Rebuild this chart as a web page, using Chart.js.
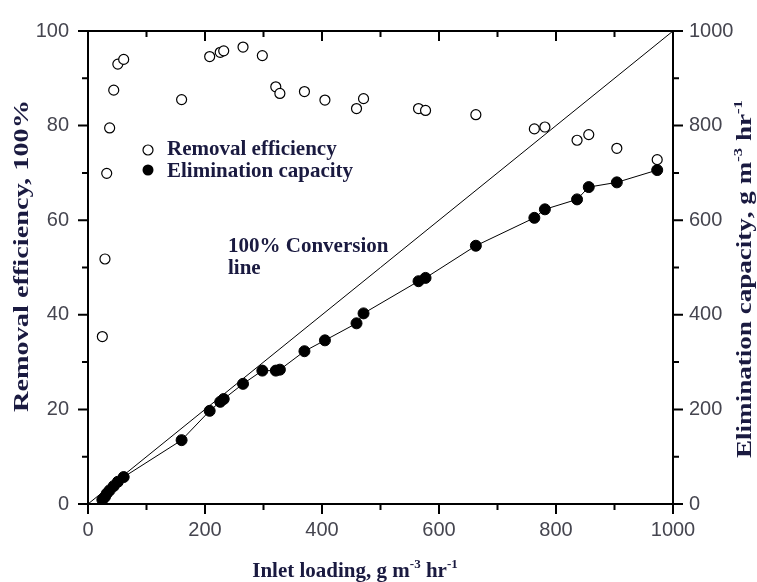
<!DOCTYPE html>
<html>
<head>
<meta charset="utf-8">
<script src="https://cdn.jsdelivr.net/npm/chart.js@4/dist/chart.umd.min.js"></script>
<style>
  body { margin: 0; background: #fff; }
</style>
</head>
<body>
<canvas id="bio" width="757" height="582"></canvas>
<script>
// inlet loading (g m-3 hr-1) for each run
var inletLoad = [24.5, 29, 32, 37, 44, 51, 61, 160, 208, 226, 232, 265, 298, 321, 328, 370, 405, 459, 471, 565, 577, 663, 763, 781, 836, 856, 904, 973];
// removal efficiency, %
var removalEff = [35.4, 51.8, 69.9, 79.5, 87.5, 93.0, 94.0, 85.5, 94.6, 95.5, 95.8, 96.6, 94.8, 88.2, 86.8, 87.2, 85.4, 83.6, 85.7, 83.6, 83.2, 82.3, 79.3, 79.7, 76.9, 78.1, 75.2, 72.8];
// elimination capacity, g m-3 hr-1
var elimCap = [9, 15, 22, 29, 38, 47, 57, 135, 197, 216, 222, 254, 282, 282, 284, 323, 346, 382, 403, 471, 478, 546, 605, 623, 644, 670, 680, 706];
// 100% conversion reference line
var convX = [0, 1000];
var convY = [0, 1000];

var xTicks = [0, 200, 400, 600, 800, 1000];
var yTicks = [0, 20, 40, 60, 80, 100];
var y2Ticks = [0, 200, 400, 600, 800, 1000];

var ink = '#1a1a40';
var serif = '"Liberation Serif", "Times New Roman", serif';

function pts(xs, ys) {
    return xs.map(function(x, i){ return {x: x, y: ys[i]}; });
}

function partFont(p, size) {
    return 'bold ' + (p.sup ? size * 0.62 : size) + 'px ' + serif;
}

function partsWidth(ctx, parts, size) {
    var total = 0;
    parts.forEach(function(p){
        ctx.font = partFont(p, size);
        p.w = ctx.measureText(p.t).width;
        total += p.w;
    });
    return total;
}

// draws a line of text with superscript pieces, centred on x
function supText(ctx, parts, x, y, size) {
    var total = partsWidth(ctx, parts, size);
    var cx = x - total / 2;
    ctx.textAlign = 'left';
    ctx.textBaseline = 'alphabetic';
    parts.forEach(function(p){
        ctx.font = partFont(p, size);
        ctx.fillText(p.t, cx, p.sup ? y - size * 0.42 : y);
        cx += p.w;
    });
}

// vertical title, stretched along its length to span `len` pixels
function sideTitle(ctx, parts, x, y, size, len) {
    var w = partsWidth(ctx, parts, size);
    ctx.save();
    ctx.translate(x, y);
    ctx.rotate(-Math.PI / 2);
    ctx.scale(len / w, 1);
    supText(ctx, parts, 0, 0, size);
    ctx.restore();
}

var unitParts = function() {
    return [{t: ', g m'}, {t: '-3', sup: true}, {t: ' hr'}, {t: '-1', sup: true}];
};

var frame = {
    id: 'frame',
    afterDraw: function(chart) {
        var ctx = chart.ctx, a = chart.chartArea;
        var sx = chart.scales.x, sy = chart.scales.y, sy2 = chart.scales.y2;
        ctx.save();
        ctx.strokeStyle = '#000';
        ctx.lineWidth = 2;
        // top and right border
        ctx.beginPath();
        ctx.moveTo(a.left - 1, a.top);
        ctx.lineTo(a.right, a.top);
        ctx.lineTo(a.right, a.bottom);
        ctx.stroke();

        // tick marks, majors and minors
        ctx.beginPath();
        for (var v = 0; v <= 1000; v += 100) {
            var px = sx.getPixelForValue(v);
            var len = (v % 200 === 0) ? 10 : 6;
            ctx.moveTo(px, a.bottom); ctx.lineTo(px, a.bottom + len);
            ctx.moveTo(px, a.top); ctx.lineTo(px, a.top + len);
            var py2 = sy2.getPixelForValue(v);
            ctx.moveTo(a.right, py2); ctx.lineTo(a.right + len, py2);
        }
        for (var w = 0; w <= 100; w += 10) {
            var py = sy.getPixelForValue(w);
            var l2 = (w % 20 === 0) ? 10 : 6;
            ctx.moveTo(a.left, py); ctx.lineTo(a.left - l2, py);
        }
        ctx.stroke();

        ctx.fillStyle = ink;
        // axis titles
        supText(ctx, [{t: 'Inlet loading'}].concat(unitParts()), 355, 577, 21);
        sideTitle(ctx, [{t: 'Removal efficiency, 100%'}], 28, 256, 21, 312);
        sideTitle(ctx, [{t: 'Elimination capacity'}].concat(unitParts()), 751, 279, 21, 358);

        // legend
        ctx.lineWidth = 1.2;
        ctx.beginPath();
        ctx.arc(148, 150, 5, 0, Math.PI * 2);
        ctx.fillStyle = '#fff';
        ctx.fill();
        ctx.strokeStyle = '#000';
        ctx.stroke();
        ctx.beginPath();
        ctx.arc(148, 170, 5.5, 0, Math.PI * 2);
        ctx.fillStyle = '#000';
        ctx.fill();
        ctx.fillStyle = ink;
        ctx.font = 'bold 21px ' + serif;
        ctx.textAlign = 'left';
        ctx.textBaseline = 'alphabetic';
        ctx.fillText('Removal efficiency', 167, 155);
        ctx.fillText('Elimination capacity', 167, 177);

        // label for the conversion line
        ctx.fillText('100% Conversion', 228, 252);
        ctx.fillText('line', 228, 274);
        ctx.restore();
    }
};

var tickFont = {family: '"Liberation Sans", Arial, sans-serif', size: 20};
var tickColor = '#45454f';
var plain = function(v) { return String(v); };

new Chart(document.getElementById('bio'), {
    type: 'scatter',
    data: {
        datasets: [
            {
                label: '100% Conversion line',
                data: pts(convX, convY),
                yAxisID: 'y2',
                showLine: true,
                borderColor: '#000',
                borderWidth: 1,
                pointRadius: 0
            },
            {
                label: 'Elimination capacity',
                data: pts(inletLoad, elimCap),
                yAxisID: 'y2',
                showLine: true,
                borderColor: '#000',
                borderWidth: 1,
                pointRadius: 5.5,
                pointBackgroundColor: '#000',
                pointBorderColor: '#000',
                pointBorderWidth: 1
            },
            {
                label: 'Removal efficiency',
                data: pts(inletLoad, removalEff),
                yAxisID: 'y',
                showLine: false,
                pointRadius: 5,
                pointBackgroundColor: '#fff',
                pointBorderColor: '#000',
                pointBorderWidth: 1.2
            }
        ]
    },
    options: {
        responsive: false,
        devicePixelRatio: 1,
        animation: false,
        layout: { padding: { top: 25, left: 0, right: 0, bottom: 0 } },
        plugins: { legend: { display: false }, tooltip: { enabled: false } },
        scales: {
            x: {
                type: 'linear', position: 'bottom', min: 0, max: 1000,
                afterFit: function(s){ s.height = 78; },
                afterBuildTicks: function(s){ s.ticks = xTicks.map(function(v){ return {value: v}; }); },
                grid: { display: false, drawTicks: false },
                border: { display: true, width: 2, color: '#000' },
                ticks: { font: tickFont, color: tickColor, padding: 14, maxRotation: 0, callback: plain }
            },
            y: {
                type: 'linear', position: 'left', min: 0, max: 100,
                afterFit: function(s){ s.width = 88; },
                afterBuildTicks: function(s){ s.ticks = yTicks.map(function(v){ return {value: v}; }); },
                grid: { display: false, drawTicks: false },
                border: { display: true, width: 2, color: '#000' },
                ticks: { font: tickFont, color: tickColor, padding: 19, callback: plain }
            },
            y2: {
                type: 'linear', position: 'right', min: 0, max: 1000,
                afterFit: function(s){ s.width = 84; },
                afterBuildTicks: function(s){ s.ticks = y2Ticks.map(function(v){ return {value: v}; }); },
                grid: { display: false, drawTicks: false },
                border: { display: true, width: 2, color: '#000' },
                ticks: { font: tickFont, color: tickColor, padding: 16, callback: plain }
            }
        }
    },
    plugins: [frame]
});
</script>
</body>
</html>
